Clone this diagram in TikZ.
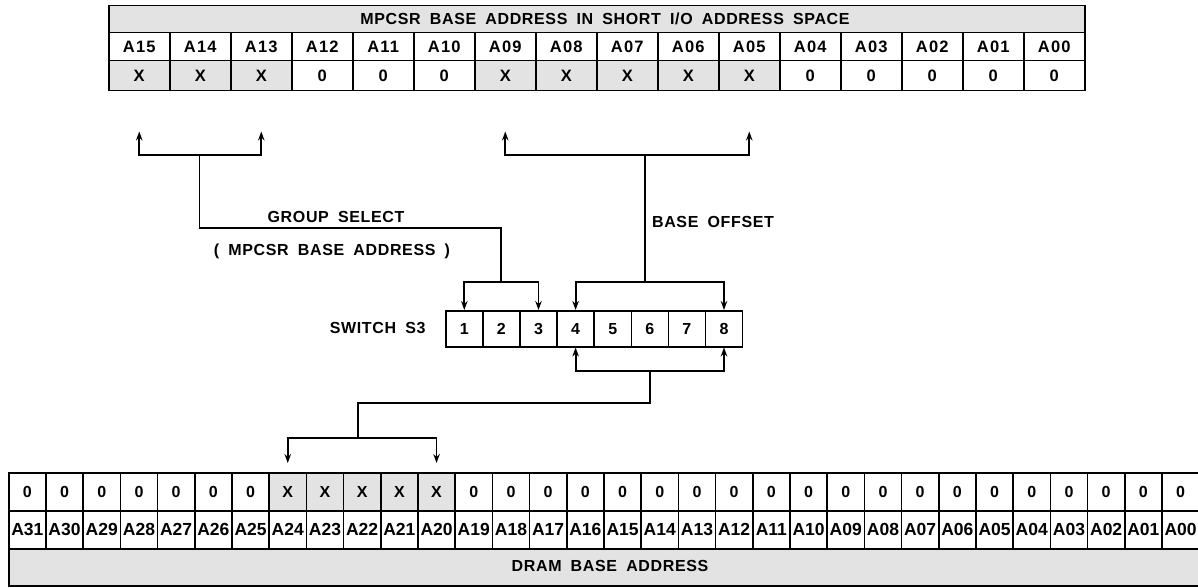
\documentclass[tikz,border=0pt]{standalone}
\usepackage{fontspec}
\setmainfont{Liberation Sans}
\newfontfamily\wide[LetterSpace=4,WordSpace=1.8]{Liberation Sans}
\newfontfamily\wider[LetterSpace=7]{Liberation Sans}
\usetikzlibrary{arrows.meta}
\begin{document}
\begin{tikzpicture}[x=1pt,y=-1pt,
  tb/.style={draw,line width=1.5pt,inner sep=0pt,anchor=north west},
  shade/.style={fill=black!11},
  cellplain/.style={},
  ln/.style={line width=1.8pt},
  arr/.style={line width=1.8pt,-{Stealth[length=9pt,width=6.5pt]}},
  lab/.style={font=\wide\bfseries\fontsize{16}{18}\selectfont},
]
\useasboundingbox (0,0) rectangle (1198,588);
% top table
\node[tb,shade,minimum width=976pt,minimum height=27pt] (thead) at (108,5) {};
\node[font=\wide\bfseries\fontsize{16}{18}\selectfont] (ttitle) at (605,18.5) {MPCSR BASE ADDRESS IN SHORT I/O ADDRESS SPACE};
\foreach \lab/\v/\s [count=\i from 0] in {A15/X/shade,A14/X/shade,A13/X/shade,A12/0/cellplain,A11/0/cellplain,A10/0/cellplain,A09/X/shade,A08/X/shade,A07/X/shade,A06/X/shade,A05/X/shade,A04/0/cellplain,A03/0/cellplain,A02/0/cellplain,A01/0/cellplain,A00/0/cellplain}{
  \node[tb,minimum width=61pt,minimum height=28pt,font=\wider\bfseries\fontsize{16.5}{18}\selectfont] (ta\lab) at ({108+61*\i},32) {\lab};
  \node[tb,\s,minimum width=61pt,minimum height=30pt,font=\bfseries\fontsize{16.5}{18}\selectfont] (tv\lab) at ({108+61*\i},60) {\v};
}
% bottom table
\foreach \lab/\v/\s [count=\j from 0] in {A31/0/cellplain,A30/0/cellplain,A29/0/cellplain,A28/0/cellplain,A27/0/cellplain,A26/0/cellplain,A25/0/cellplain,A24/X/shade,A23/X/shade,A22/X/shade,A21/X/shade,A20/X/shade,A19/0/cellplain,A18/0/cellplain,A17/0/cellplain,A16/0/cellplain,A15/0/cellplain,A14/0/cellplain,A13/0/cellplain,A12/0/cellplain,A11/0/cellplain,A10/0/cellplain,A09/0/cellplain,A08/0/cellplain,A07/0/cellplain,A06/0/cellplain,A05/0/cellplain,A04/0/cellplain,A03/0/cellplain,A02/0/cellplain,A01/0/cellplain,A00/0/cellplain}{
  \node[tb,\s,minimum width=37.2pt,minimum height=38pt,font=\bfseries\fontsize{16}{18}\selectfont] (bv\lab) at ({8+37.2*\j},472) {\v};
  \node[tb,minimum width=37.2pt,minimum height=38pt,font=\bfseries\fontsize{17.5}{19}\selectfont] (ba\lab) at ({8+37.2*\j},510) {\lab};
}
\node[tb,shade,minimum width=1190.4pt,minimum height=37pt] (bfoot) at (8,548) {};
\node[lab] (btitle) at (610,566) {DRAM BASE ADDRESS};
% switch
\foreach \k [count=\n from 0] in {1,...,8}{
  \node[tb,minimum width=37.1pt,minimum height=36pt,font=\bfseries\fontsize{16}{18}\selectfont] (s\k) at ({445+37.1*\n},310) {\k};
}
\node[lab,anchor=east] (swl) at (429,328) {SWITCH S3};
% labels
\node[lab] (gsl) at (336,217) {GROUP SELECT};
\node[lab] (mbl) at (332,251) {( MPCSR BASE ADDRESS )};
\node[lab] (bol) at (713,222) {BASE OFFSET};
% group select connectors
\coordinate (gtop) at (199.5,155);
\coordinate (gturn) at (500.65,228);
\coordinate (gbr) at (500.65,282);
\draw[arr] (gtop) -| ([yshift=-40pt]tvA15.south);
\draw[arr] (gtop) -| ([yshift=-40pt]tvA13.south);
\draw[ln] (gtop) |- (gturn) -- (gbr);
\draw[arr] (gbr) -| (s1.north);
\draw[arr] (gbr) -| (s3.north);
% base offset connectors
\coordinate (otop) at (645,155);
\coordinate (obr) at (645,282);
\draw[arr] (otop) -| ([yshift=-40pt]tvA09.south);
\draw[arr] (otop) -| ([yshift=-40pt]tvA05.south);
\draw[ln] (otop) -- (obr);
\draw[arr] (obr) -| (s4.north);
\draw[arr] (obr) -| (s8.north);
% dram connectors
\coordinate (dbr) at (650,371);
\coordinate (dturn1) at (650,403);
\coordinate (dturn2) at (358,403);
\coordinate (dbr2) at (358,438);
\draw[arr] (dbr) -| (s4.south);
\draw[arr] (dbr) -| (s8.south);
\draw[ln] (dbr) -- (dturn1) -- (dturn2) -- (dbr2);
\draw[arr] (dbr2) -| ([yshift=9pt]bvA24.north);
\draw[arr] (dbr2) -| ([yshift=9pt]bvA20.north);
\end{tikzpicture}
\end{document}
